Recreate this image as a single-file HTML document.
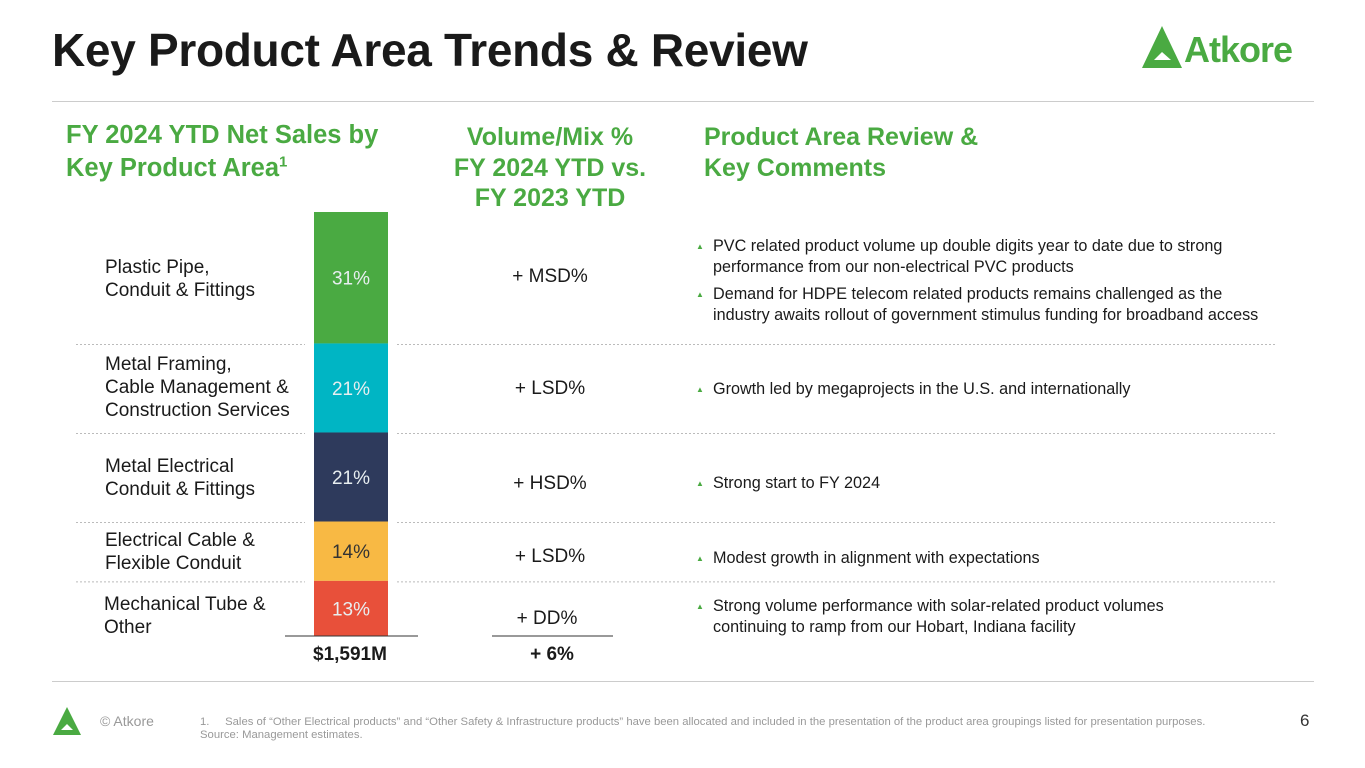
<!DOCTYPE html>
<html><head><meta charset="utf-8"><style>
body{margin:0;width:1365px;height:768px;background:#fff;font-family:"Liberation Sans",Arial,sans-serif;position:relative;overflow:hidden}
.a{position:absolute}
.h{color:#4aaa42;font-weight:bold;font-size:25px;line-height:30.5px}
.lbl{font-size:19px;line-height:23px;color:#1a1a1a}
.c{font-size:16.2px;line-height:21px;color:#1a1a1a}
.tri{color:#4aaa42;font-size:8px;position:absolute;left:-17px;top:0}
</style></head><body>
<div class="a" style="left:52px;top:23px;font-size:46px;font-weight:bold;color:#1a1a1a;letter-spacing:-0.3px">Key Product Area Trends &amp; Review</div>
<svg class="a" style="left:1140px;top:22px" width="180" height="50" viewBox="0 0 180 50">
<path d="M2 46 L22 4 L42 46 Z M14 38 L22 30 L31 38 Z" fill="#4aaa42" fill-rule="evenodd"/>
<text x="44" y="40" font-family="Liberation Sans,Arial" font-weight="bold" font-size="36" fill="#4aaa42" letter-spacing="-1">Atkore</text></svg>
<div class="a" style="left:52px;top:101px;width:1262px;height:1px;background:#ccc"></div>
<div class="a h" style="left:66px;top:119px;font-size:25.5px;line-height:33px">FY 2024 YTD Net Sales by<br>Key Product Area<sup style="font-size:15px;line-height:0">1</sup></div>
<div class="a h" style="left:420px;top:122px;width:260px;text-align:center">Volume/Mix %<br>FY 2024 YTD vs.<br>FY 2023 YTD</div>
<div class="a h" style="left:704px;top:122px">Product Area Review &amp;<br>Key Comments</div>
<svg class="a" id="chart" style="left:0;top:0" width="1365" height="700"></svg>
<div class="a lbl" style="left:105px;top:256px">Plastic Pipe,<br>Conduit &amp; Fittings</div>
<div class="a lbl" style="left:105px;top:353px">Metal Framing,<br>Cable Management &amp;<br>Construction Services</div>
<div class="a lbl" style="left:105px;top:455px">Metal Electrical<br>Conduit &amp; Fittings</div>
<div class="a lbl" style="left:105px;top:529px">Electrical Cable &amp;<br>Flexible Conduit</div>
<div class="a lbl" style="left:104px;top:593px">Mechanical Tube &amp;<br>Other</div>
<div class="a lbl" style="left:490px;top:265px;width:120px;text-align:center">+ MSD%</div>
<div class="a lbl" style="left:490px;top:377px;width:120px;text-align:center">+ LSD%</div>
<div class="a lbl" style="left:490px;top:472px;width:120px;text-align:center">+ HSD%</div>
<div class="a lbl" style="left:490px;top:545px;width:120px;text-align:center">+ LSD%</div>
<div class="a lbl" style="left:487px;top:607px;width:120px;text-align:center">+ DD%</div>
<div class="a" style="left:295px;top:644px;width:110px;text-align:center;font-size:19px;font-weight:bold;color:#1a1a1a">$1,591M</div>
<div class="a" style="left:502px;top:644px;width:100px;text-align:center;font-size:19px;font-weight:bold;color:#1a1a1a">+ 6%</div>
<div class="a c" style="left:713px;top:236px"><span class="tri">▲</span>PVC related product volume up double digits year to date due to strong<br>performance from our non-electrical PVC products</div>
<div class="a c" style="left:713px;top:284px"><span class="tri">▲</span>Demand for HDPE telecom related products remains challenged as the<br>industry awaits rollout of government stimulus funding for broadband access</div>
<div class="a c" style="left:713px;top:379px"><span class="tri">▲</span>Growth led by megaprojects in the U.S. and internationally</div>
<div class="a c" style="left:713px;top:473px"><span class="tri">▲</span>Strong start to FY 2024</div>
<div class="a c" style="left:713px;top:548px"><span class="tri">▲</span>Modest growth in alignment with expectations</div>
<div class="a c" style="left:713px;top:596px"><span class="tri">▲</span>Strong volume performance with solar-related product volumes<br>continuing to ramp from our Hobart, Indiana facility</div>
<div class="a" style="left:52px;top:681px;width:1262px;height:1px;background:#ccc"></div>
<svg class="a" style="left:52px;top:706px" width="36" height="30" viewBox="0 0 36 30"><path d="M1 29 L15 1 L29 29 Z M9 24 L15 18 L21 24 Z" fill="#4aaa42" fill-rule="evenodd"/></svg>
<div class="a" style="left:100px;top:713px;font-size:14px;color:#999">© Atkore</div>
<div class="a" style="left:200px;top:716px;font-size:11.3px;line-height:13px;color:#999">1.&nbsp;&nbsp;&nbsp;&nbsp; Sales of “Other Electrical products” and “Other Safety &amp; Infrastructure products” have been allocated and included in the presentation of the product area groupings listed for presentation purposes.<br>Source: Management estimates.</div>
<div class="a" style="left:1300px;top:711px;font-size:17px;color:#333">6</div>
<script>
const categories=["Plastic Pipe","Metal Framing","Metal Electrical","Electrical Cable","Mechanical Tube"];
const shares=[31,21,21,14,13];
const shareLabels=["31%","21%","21%","14%","13%"];
const colors=["#4aaa42","#00b5c4","#2e3a5c","#f8b944","#e8503a"];
const svg=document.getElementById('chart');const NS='http://www.w3.org/2000/svg';
const top0=212,bottom0=636,total=shares.reduce((a,b)=>a+b,0);
const y=v=>top0+(v/total)*(bottom0-top0);
let cum=0;
shares.forEach((s,i)=>{
 const y0=y(cum),y1=y(cum+s);
 if(i>0){[[76,305],[397,1276]].forEach(([a,b])=>{const l=document.createElementNS(NS,'line');
 
 
 l.setAttribute('x1',a);l.setAttribute('x2',b);l.setAttribute('y1',y0+1);l.setAttribute('y2',y0+1);l.setAttribute('stroke','#bbb');l.setAttribute('stroke-dasharray','2,2');svg.appendChild(l);});}
 const r=document.createElementNS(NS,'rect');
 
 
 r.setAttribute('x',314);r.setAttribute('width',74);r.setAttribute('y',y0);r.setAttribute('height',y1-y0);r.setAttribute('fill',colors[i]);svg.appendChild(r);
 const t=document.createElementNS(NS,'text');
 
 
 t.setAttribute('x',351);t.setAttribute('y',(y0+y1)/2+7);t.setAttribute('text-anchor','middle');t.setAttribute('font-size','19');t.setAttribute('font-family','Liberation Sans,Arial');
 t.setAttribute('fill',i===3?'#333':'#e8eef0');t.textContent=shareLabels[i];svg.appendChild(t);
 cum+=s;
});
[[285,418],[492,613]].forEach(([a,b])=>{const l=document.createElementNS(NS,'line');
 
 
 l.setAttribute('x1',a);l.setAttribute('x2',b);l.setAttribute('y1',636);l.setAttribute('y2',636);l.setAttribute('stroke','#333');svg.appendChild(l);});
</script>
</body></html>
